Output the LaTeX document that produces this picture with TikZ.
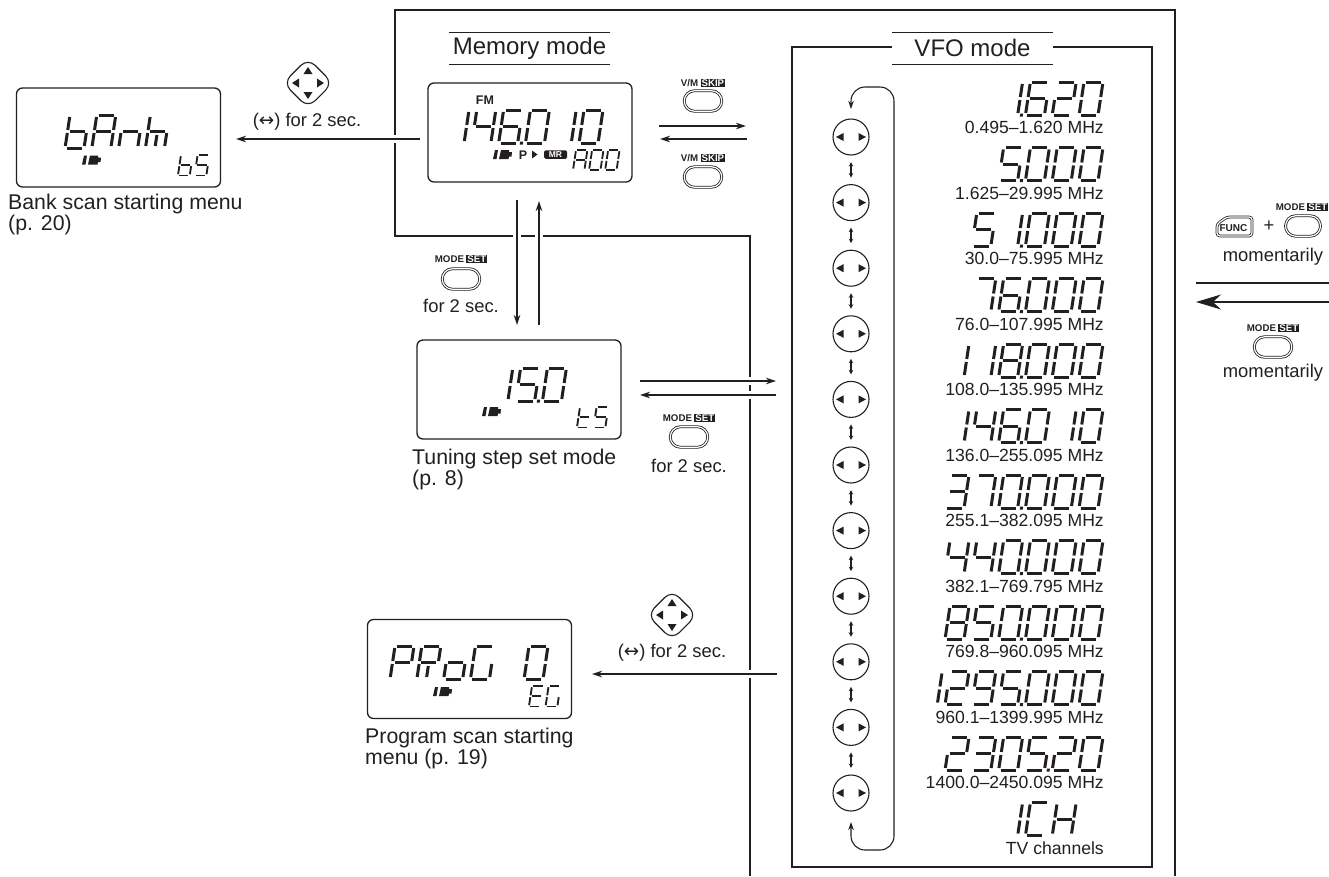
\documentclass[tikz,border=0pt]{standalone}
\usepackage{fontspec}
\setmainfont{Liberation Sans}
\newfontfamily\arrowfont{DejaVu Sans}
\usetikzlibrary{arrows.meta,shapes.geometric,shapes.misc}

\setlength{\fboxsep}{0.9pt}
\definecolor{ink}{HTML}{231F20}
\newcommand{\keytag}[2]{\textbf{#1}\kern2.5pt\colorbox{ink}{\textcolor{white}{\textbf{#2}}}}

% seven segment readout
\makeatletter
\def\lcd@s@a{(2,0) -- (17,0)}
\def\lcd@s@b{(19,2) -- (19,15)}
\def\lcd@s@c{(19,18) -- (19,31)}
\def\lcd@s@d{(2,33) -- (17,33)}
\def\lcd@s@e{(0,18) -- (0,31)}
\def\lcd@s@f{(0,2) -- (0,15)}
\def\lcd@s@g{(2,16.5) -- (17,16.5)}
\def\lcd@s@i{(9.5,20) -- (9.5,31)}
\newcommand{\lcdglyph}[2]{\expandafter\def\csname lcd@g@#1\endcsname{#2}}
\lcdglyph{0}{a,b,c,d,e,f}
\lcdglyph{1}{b,c}
\lcdglyph{2}{a,b,g,e,d}
\lcdglyph{3}{a,b,g,c,d}
\lcdglyph{4}{f,g,b,c}
\lcdglyph{5}{a,f,g,c,d}
\lcdglyph{6}{a,f,g,e,c,d}
\lcdglyph{7}{a,b,c}
\lcdglyph{8}{a,b,c,d,e,f,g}
\lcdglyph{9}{a,b,f,g,c,d}
\lcdglyph{A}{a,b,c,e,f,g}
\lcdglyph{b}{f,e,d,c,g}
\lcdglyph{C}{a,f,e,d}
\lcdglyph{E}{a,f,g,e,d}
\lcdglyph{G}{a,f,e,d,c}
\lcdglyph{H}{b,c,e,f,g}
\lcdglyph{k}{f,e,g,i,c}
\lcdglyph{n}{e,g,c}
\lcdglyph{o}{g,c,d,e}
\lcdglyph{P}{a,b,f,g,e}
\lcdglyph{R}{a,b,f,g,e,i}
\lcdglyph{S}{a,f,g,c,d}
\lcdglyph{t}{f,e,g,d}
\newcommand{\lcd@digit}[1]{%
  \edef\lcd@list{\csname lcd@g@#1\endcsname}%
  \foreach \seg in \lcd@list {%
    \draw[ink,line width=\lcd@w*3pt,shift={(\lcd@x,0)}] \csname lcd@s@\seg\endcsname;
  }}
\def\lcd@scan#1{%
  \ifx#1\relax\else
    \ifx#1.%
      \fill[ink] (\lcd@x-5.5,31.5) rectangle ++(3,3);
    \else
      \ifx#1_\else\lcd@digit{#1}\fi
      \pgfmathsetmacro\lcd@x{\lcd@x+26.8}%
    \fi
    \expandafter\lcd@scan
  \fi}
\newcommand{\lcd}[3][1]{%
  \begin{scope}[shift={#2},xslant=0.15,scale=#1]
    \def\lcd@x{0}\def\lcd@w{#1}%
    \expandafter\lcd@scan#3\relax
  \end{scope}}
\makeatother

\newcommand{\battery}[1]{%
  \fill[ink,shift={#1}] (0,9) -- (2,0) -- (5,0) -- (3.5,9) -- cycle
    (6,9) -- (8,0) -- (16,0) -- (16,2) -- (19,2) -- (18.5,6.5) -- (16,6.5) -- (15.5,9) -- cycle;}

\tikzset{
  frameline/.style={ink,line width=2.8pt},
  thinline/.style={ink,line width=1pt},
  arrowline/.style={ink,line width=1.2pt,-{Stealth[length=10pt,width=6.5pt]}},
  cross/.style={preaction={draw=white,line width=8pt,arrows=-}},
  lcdbox/.style={draw=ink,line width=1.3pt,rounded corners=6pt,minimum width=204pt,minimum height=99pt,inner sep=0pt,outer sep=0pt},
  modekey/.style={draw=ink,shape=rounded rectangle,minimum width=37.5pt,minimum height=20.5pt,double,double distance=1.2pt,line width=0.8pt,inner sep=0pt},
  padkey/.style={draw=ink,circle,minimum size=36pt,line width=1.1pt,inner sep=0pt},
  navkey/.style={draw=ink,diamond,rounded corners=10pt,minimum width=50pt,minimum height=50pt,line width=1.1pt,inner sep=0pt},
  tagtext/.style={text=ink,inner sep=0pt,font=\fontsize{9.7}{10}\selectfont},
  titletext/.style={text=ink,inner sep=0pt,font=\fontsize{24}{24}\selectfont},
  captext/.style={text=ink,inner sep=0pt,align=left,anchor=north west,font=\fontsize{21.3}{21}\selectfont},
  keytext/.style={text=ink,inner sep=0pt,font=\fontsize{18.4}{19}\selectfont},
  rangetext/.style={text=ink,inner sep=0pt,anchor=base east,font=\fontsize{17.6}{18}\selectfont},
}

\begin{document}
\begin{tikzpicture}[x=1pt,y=-1pt]
  \useasboundingbox (0,0) rectangle (1329,876);

  % Outer frame
  \coordinate (F1) at (395,236);
  \coordinate (F2) at (395,10);
  \coordinate (F3) at (1175,10);
  \coordinate (F4) at (1175,876);
  \coordinate (F5) at (750,876);
  \coordinate (F6) at (750,236);
  \draw[frameline] (F4) -- (F3) -- (F2) -- (F1) -- (F6) -- (F5);

  % VFO frame
  \coordinate (V1) at (892,47);
  \coordinate (V2) at (792,47);
  \coordinate (V3) at (792,867);
  \coordinate (V4) at (1152,867);
  \coordinate (V5) at (1152,47);
  \coordinate (V6) at (1053,47);
  \draw[ink,line width=2.2pt] (V1) -- (V2) -- (V3) -- (V4) -- (V5) -- (V6);

  % Mode titles
  \node[titletext] (memtitle) at (529.5,48) {Memory mode};
  \node[titletext] (vfotitle) at (972.5,48) {VFO mode};
  \draw[thinline] (449,32) -- (610,32);
  \draw[thinline] (449,64) -- (610,64);
  \draw[thinline] (892,32) -- (1053,32);
  \draw[thinline] (892,64) -- (1053,64);

  % Displays
  \node[lcdbox] (memdisp) at (530,132.5) {};
  \node[lcdbox] (bankdisp) at (118.5,137.5) {};
  \node[lcdbox] (stepdisp) at (519,389.5) {};
  \node[lcdbox] (progdisp) at (469.5,669) {};

  \node[text=ink,inner sep=0pt,font=\fontsize{12.5}{13}\selectfont\bfseries] (fmtag) at (485,100) {FM};
  \lcd{(450,110)}{146.010}
  \battery{(493,150)}
  \node[text=ink,inner sep=0pt,font=\fontsize{12.5}{13}\selectfont\bfseries] (ptag) at (523,155) {P};
  \fill[ink] (532,150.5) -- (537.5,154.5) -- (532,158.5) -- cycle;
  \node[tagtext,fill=ink,text=white,rounded corners=1.5pt,minimum width=23pt,minimum height=8.5pt,font=\fontsize{8.5}{8}\selectfont\bfseries] (mrtag) at (555.5,154.5) {MR};
  \lcd[0.6]{(576,150)}{A00}

  \lcd{(70,115)}{bAnk}
  \battery{(82,155.5)}
  \lcd[0.62]{(181,155)}{bS}

  \lcd{(467,368)}{_15.0}
  \battery{(482,407)}
  \lcd[0.62]{(580,407)}{tS}

  \lcd{(395,646)}{PRoG_0}
  \battery{(433,687)}
  \lcd[0.62]{(532,686)}{EG}

  % Captions
  \node[captext] (bankcap) at (8,194) {Bank scan starting menu\\(p. 20)};
  \node[captext] (stepcap) at (412,449) {Tuning step set mode\\(p. 8)};
  \node[captext] (progcap) at (365,728) {Program scan starting\\menu (p. 19)};

  % Memory to bank
  \node[navkey] (navbank) at (308,83) {};
  \foreach \a in {0,90,180,270}
    \fill[ink,shift={(navbank.center)},rotate=\a] (16,0) -- (9,-4.5) -- (9,4.5) -- cycle;
  \node[keytext] (navbanktext) at (307,122) {({\arrowfont ↔}) for 2 sec.};
  \coordinate (bankfrom) at (420,139);
  \coordinate (bankto) at (236,139);
  \draw[arrowline,cross] (bankfrom) -- (bankto);

  % Memory and VFO
  \node[tagtext] (vmtagA) at (703,83) {\keytag{V/M}{SKIP}};
  \node[modekey] (vmkeyA) at (703,101) {};
  \node[tagtext] (vmtagB) at (703,158) {\keytag{V/M}{SKIP}};
  \node[modekey] (vmkeyB) at (703,177) {};
  \coordinate (memoutA) at (659,126);
  \coordinate (vfoinA) at (746,126);
  \coordinate (vfooutA) at (747,139);
  \coordinate (meminA) at (660,139);
  \draw[arrowline] (memoutA) -- (vfoinA);
  \draw[arrowline] (vfooutA) -- (meminA);

  % Memory and tuning step
  \node[tagtext] (modetagA) at (461,259) {\keytag{MODE}{SET}};
  \node[modekey] (modekeyA) at (461,279) {};
  \node[keytext] (modetextA) at (461,306) {for 2 sec.};
  \coordinate (stepinA) at (517,325);
  \coordinate (memoutB) at (517,200);
  \coordinate (stepoutA) at (539,325);
  \coordinate (meminB) at (539,201);
  \draw[arrowline,cross] (memoutB) -- (stepinA);
  \draw[arrowline,cross] (stepoutA) -- (meminB);

  % Tuning step and VFO
  \node[tagtext] (modetagB) at (689,418) {\keytag{MODE}{SET}};
  \node[modekey] (modekeyB) at (689,437) {};
  \node[keytext] (modetextB) at (689,466) {for 2 sec.};
  \coordinate (stepoutB) at (640,381);
  \coordinate (vfoinB) at (776,381);
  \coordinate (vfooutB) at (776,395);
  \coordinate (stepinB) at (640,395);
  \draw[arrowline,cross] (stepoutB) -- (vfoinB);
  \draw[arrowline,cross] (vfooutB) -- (stepinB);

  % VFO to program
  \node[navkey] (navprog) at (672,615) {};
  \foreach \a in {0,90,180,270}
    \fill[ink,shift={(navprog.center)},rotate=\a] (16,0) -- (9,-4.5) -- (9,4.5) -- cycle;
  \node[keytext] (navprogtext) at (672,653) {({\arrowfont ↔}) for 2 sec.};
  \coordinate (progfrom) at (777,674);
  \coordinate (progto) at (592,674);
  \draw[arrowline,cross] (progfrom) -- (progto);

  % Band keys
  \foreach \i in {1,...,11} {
    \pgfmathsetmacro\padY{137+(\i-1)*65.6}
    \node[padkey] (pad\i) at (851,\padY) {};
    \fill[ink,shift={(pad\i.center)}] (-15,0) -- (-7.5,-4) -- (-7.5,4) -- cycle;
    \fill[ink,shift={(pad\i.center)}] (15,0) -- (7.5,-4) -- (7.5,4) -- cycle;
  }
  \foreach \i [remember=\i as \j (initially 1)] in {2,...,11}
    \draw[ink,line width=1.1pt,{Stealth[length=4.5pt,width=4.5pt]}-{Stealth[length=4.5pt,width=4.5pt]},shorten <=6.5pt,shorten >=6.5pt] (pad\j) -- (pad\i);

  % Band loop
  \coordinate (looptop) at (851,109);
  \coordinate (loopbot) at (851,822);
  \draw[ink,line width=1.1pt,rounded corners=14pt,{Stealth[length=8pt,width=5.5pt]}-{Stealth[length=8pt,width=5.5pt]}]
    (looptop) -- (851,87) -- (894,87) -- (894,850) -- (851,850) -- (loopbot);

  % Band readouts
  \foreach \startx/\lcdstr/\rangelabel [count=\i from 0] in {
    1003.6/1.620/0.495–1.620 MHz,
    1003.6/5.000/1.625–29.995 MHz,
    976.8/51.000/30.0–75.995 MHz,
    976.8/76.000/76.0–107.995 MHz,
    950/118.000/108.0–135.995 MHz,
    950/146.010/136.0–255.095 MHz,
    950/370.000/255.1–382.095 MHz,
    950/440.000/382.1–769.795 MHz,
    950/850.000/769.8–960.095 MHz,
    923.2/1295.000/960.1–1399.995 MHz,
    950/2305.20/1400.0–2450.095 MHz,
    1003.6/1CH/TV channels} {
    \pgfmathsetmacro\rowY{82+\i*65.5}
    \lcd{(\startx,\rowY)}{\lcdstr}
    \node[rangetext] (range\i) at (1104,\rowY+51.5) {\rangelabel};
  }

  % Leaving VFO mode
  \coordinate (exitfrom) at (1329,302);
  \coordinate (exitto) at (1196,302);
  \draw[ink,line width=1.1pt] (1196,283) -- (1329,283);
  \draw[ink,line width=1.1pt,-{Stealth[length=25pt,width=15pt]}] (exitfrom) -- (exitto);

  \node[tagtext,font=\fontsize{10}{10}\selectfont\bfseries] (functext) at (1233.5,228) {FUNC};
  \draw[ink,line width=0.8pt,double,double distance=1.2pt,rounded corners=3pt]
    (1217,236) -- (1217,224) -- (1227,217) -- (1252,217) -- (1252,236) -- cycle;
  \node[keytext] (plustext) at (1269,226) {+};
  \node[tagtext] (modetagC) at (1302,207) {\keytag{MODE}{SET}};
  \node[modekey,minimum width=35pt] (modekeyC) at (1303,226) {};
  \node[keytext] (momentA) at (1273,257) {momentarily};
  \node[tagtext] (modetagD) at (1273,328) {\keytag{MODE}{SET}};
  \node[modekey] (modekeyD) at (1273,347) {};
  \node[keytext] (momentB) at (1273,373) {momentarily};
\end{tikzpicture}
\end{document}
